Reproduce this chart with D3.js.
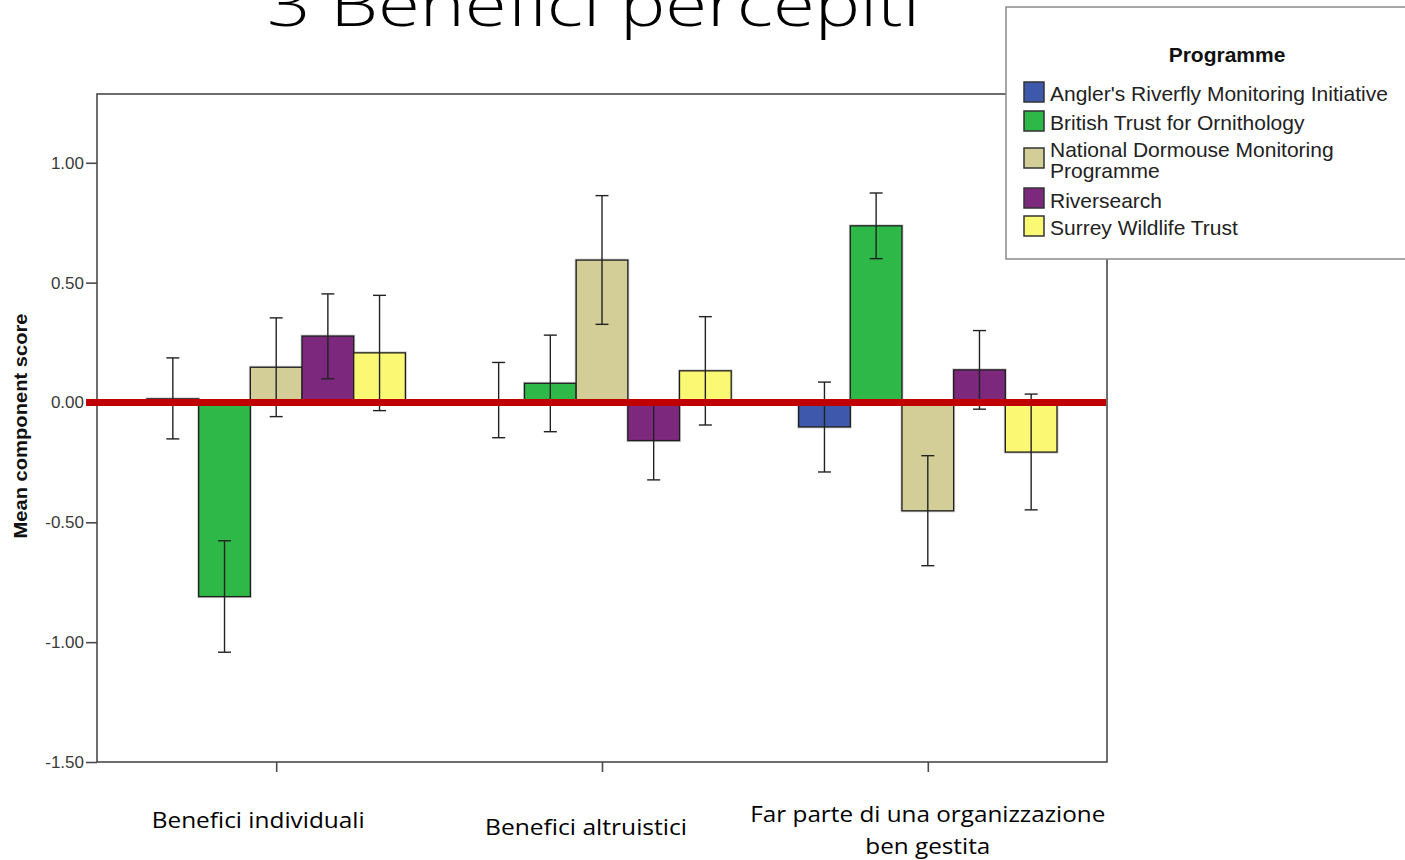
<!DOCTYPE html>
<html lang="it">
<head>
<meta charset="utf-8">
<title>3 Benefici percepiti</title>
<script src="https://cdn.jsdelivr.net/npm/d3@7"></script>
<style>
  body { margin: 0; background: #fff; }
  svg { display: block; }
</style>
</head>
<body>
<div id="chart"></div>
<script>
// --- data ---
var categories = ["Benefici individuali", "Benefici altruistici", "Far parte di una organizzazione ben gestita"];
var categoryLines = [["Benefici individuali"], ["Benefici altruistici"], ["Far parte di una organizzazione", "ben gestita"]];
var programmes = ["Angler's Riverfly Monitoring Initiative", "British Trust for Ornithology",
                  "National Dormouse Monitoring Programme", "Riversearch", "Surrey Wildlife Trust"];
var legendLines = [["Angler's Riverfly Monitoring Initiative"], ["British Trust for Ornithology"],
                   ["National Dormouse Monitoring", "Programme"], ["Riversearch"], ["Surrey Wildlife Trust"]];
var programmeColors = ["#3e58ac", "#2eb848", "#d3ce97", "#7c287d", "#fbf873"];

// one row per category, one value per programme
var meanScores = [[0.015, -0.810, 0.147, 0.277, 0.207],
                  [0.008, 0.080, 0.594, -0.159, 0.132],
                  [-0.102, 0.737, -0.452, 0.136, -0.207]];
var ciLower = [[-0.152, -1.042, -0.059, 0.099, -0.034],
               [-0.147, -0.122, 0.326, -0.323, -0.094],
               [-0.290, 0.600, -0.681, -0.028, -0.448]];
var ciUpper = [[0.186, -0.577, 0.353, 0.453, 0.447],
               [0.167, 0.281, 0.863, 0.005, 0.358],
               [0.085, 0.874, -0.222, 0.300, 0.035]];
var yTicks = [1.0, 0.5, 0.0, -0.5, -1.0, -1.5];

var width = 1405, height = 860;
var plot = {left: 97, right: 1107, top: 94, bottom: 762};

var svg = d3.select("#chart").append("svg")
    .attr("width", width)
    .attr("height", height);

svg.append("rect").attr("width", width).attr("height", height).attr("fill", "#fff");

// slide title, cut at the top like in the slide
svg.append("text")
    .attr("x", 267)
    .attr("y", 26)
    .attr("textLength", 653)
    .attr("lengthAdjust", "spacingAndGlyphs")
    .style("font-family", "'Open Sans', sans-serif")
    .style("font-weight", 300)
    .style("font-size", "60px")
    .attr("fill", "#000")
    .text("3 Benefici percepiti");

var y = d3.scaleLinear()
    .domain([-1.5, 1.287])
    .range([plot.bottom, plot.top]);

var x = d3.scalePoint()
    .domain(categories)
    .range([plot.left, plot.right])
    .padding(0.55);

var groupWidth = x.step() * 0.793;
var xInner = d3.scaleBand()
    .domain(programmes)
    .range([-groupWidth / 2, groupWidth / 2]);

// rows for drawing
var rows = [];
categories.forEach(function(c, i) {
    programmes.forEach(function(p, j) {
        rows.push({cat: c, prog: p, color: programmeColors[j],
                   mean: meanScores[i][j], lo: ciLower[i][j], hi: ciUpper[i][j]});
    });
});

// frame
svg.append("rect")
    .attr("x", plot.left)
    .attr("y", plot.top)
    .attr("width", plot.right - plot.left)
    .attr("height", plot.bottom - plot.top)
    .attr("fill", "none")
    .attr("stroke", "#4a4a4a")
    .attr("stroke-width", 1.6);

// y axis
var yAxis = d3.axisLeft(y)
    .tickValues(yTicks)
    .tickSize(11)
    .tickPadding(2)
    .tickFormat(function(d) { return d.toFixed(2); });

var gy = svg.append("g")
    .attr("transform", "translate(" + plot.left + ",0)")
    .call(yAxis);
gy.select(".domain").remove();
gy.selectAll("line").attr("stroke", "#4a4a4a").attr("stroke-width", 1.6);
gy.selectAll("text")
    .style("font-family", "'Liberation Sans', Arial, sans-serif")
    .style("font-size", "17px")
    .attr("fill", "#3a3a3a");

// x axis (ticks only, labels are slide text)
var xAxis = d3.axisBottom(x)
    .tickSize(10)
    .tickFormat("");
var gx = svg.append("g")
    .attr("transform", "translate(0," + plot.bottom + ")")
    .call(xAxis);
gx.select(".domain").remove();
gx.selectAll("line").attr("stroke", "#4a4a4a").attr("stroke-width", 1.6);

// y axis title
svg.append("text")
    .attr("transform", "translate(27,426) rotate(-90)")
    .attr("text-anchor", "middle")
    .style("font-family", "'Liberation Sans', Arial, sans-serif")
    .style("font-weight", "bold")
    .style("font-size", "18px")
    .attr("textLength", 225)
    .attr("lengthAdjust", "spacingAndGlyphs")
    .attr("fill", "#111")
    .text("Mean component score");

// bars
var bars = svg.append("g");
bars.selectAll("rect.halo")
    .data(rows)
    .enter()
    .append("rect")
    .attr("class", "halo")
    .attr("x", function(d) { return x(d.cat) + xInner(d.prog); })
    .attr("y", function(d) { return Math.min(y(d.mean), y(0)); })
    .attr("width", xInner.bandwidth())
    .attr("height", function(d) { return Math.abs(y(d.mean) - y(0)); })
    .attr("fill", "none")
    .attr("stroke", "#aaa")
    .attr("stroke-width", 3)
    .attr("stroke-opacity", 0.6);

bars.selectAll("rect.bar")
    .data(rows)
    .enter()
    .append("rect")
    .attr("class", "bar")
    .attr("x", function(d) { return x(d.cat) + xInner(d.prog); })
    .attr("y", function(d) { return Math.min(y(d.mean), y(0)); })
    .attr("width", xInner.bandwidth())
    .attr("height", function(d) { return Math.abs(y(d.mean) - y(0)); })
    .attr("fill", function(d) { return d.color; })
    .attr("stroke", "#1e1e1e")
    .attr("stroke-width", 1.3);

// error bars (95% CI)
var capHalf = 6.5;
var errs = svg.append("g")
    .attr("stroke", "#222")
    .attr("stroke-width", 1.4);
var eb = errs.selectAll("g")
    .data(rows)
    .enter()
    .append("g")
    .attr("transform", function(d) {
        return "translate(" + (x(d.cat) + xInner(d.prog) + xInner.bandwidth() / 2) + ",0)";
    });
eb.append("line")
    .attr("y1", function(d) { return y(d.lo); })
    .attr("y2", function(d) { return y(d.hi); });
eb.append("line")
    .attr("x1", -capHalf).attr("x2", capHalf)
    .attr("y1", function(d) { return y(d.hi); })
    .attr("y2", function(d) { return y(d.hi); });
eb.append("line")
    .attr("x1", -capHalf).attr("x2", capHalf)
    .attr("y1", function(d) { return y(d.lo); })
    .attr("y2", function(d) { return y(d.lo); });

// red zero line drawn on top
svg.append("line")
    .attr("x1", plot.left - 11)
    .attr("x2", plot.right - 1)
    .attr("y1", y(0))
    .attr("y2", y(0))
    .attr("stroke", "#c00000")
    .attr("stroke-width", 7);

// category labels (slide text boxes, a bit off the ticks)
var labelShift = [{dx: -18, y: 828}, {dx: -16, y: 835}, {dx: 0, y: 822}];
var labelWidths = [[213], [202], [355, 125]];
categories.forEach(function(c, i) {
    categoryLines[i].forEach(function(line, k) {
        svg.append("text")
            .attr("x", x(c) + labelShift[i].dx)
            .attr("y", labelShift[i].y + k * 32)
            .attr("text-anchor", "middle")
            .attr("textLength", labelWidths[i][k])
            .attr("lengthAdjust", "spacingAndGlyphs")
            .style("font-family", "'Open Sans', sans-serif")
            .style("font-size", "21px")
            .attr("fill", "#000")
            .text(line);
    });
});

// legend
var legend = svg.append("g");
legend.append("rect")
    .attr("x", 1006)
    .attr("y", 7)
    .attr("width", 430)
    .attr("height", 252)
    .attr("fill", "#fff")
    .attr("stroke", "#8a8a8a")
    .attr("stroke-width", 1.5);
legend.append("text")
    .attr("x", 1227)
    .attr("y", 62)
    .attr("text-anchor", "middle")
    .style("font-family", "'Liberation Sans', Arial, sans-serif")
    .style("font-weight", "bold")
    .style("font-size", "21px")
    .attr("fill", "#111")
    .text("Programme");

var swatchTop = [82, 111, 148, 188, 216];
var textBase = [101, 130, 157, 208, 235];
var item = legend.selectAll("g.item")
    .data(programmes)
    .enter()
    .append("g")
    .attr("class", "item");
item.append("rect")
    .attr("x", 1024)
    .attr("y", function(d, i) { return swatchTop[i]; })
    .attr("width", 20)
    .attr("height", 20)
    .attr("fill", function(d, i) { return programmeColors[i]; })
    .attr("stroke", "#333")
    .attr("stroke-width", 1.5);
item.append("text")
    .attr("x", 1050)
    .attr("y", function(d, i) { return textBase[i]; })
    .style("font-family", "'Liberation Sans', Arial, sans-serif")
    .style("font-size", "21px")
    .attr("fill", "#222")
    .each(function(d, i) {
        var t = d3.select(this);
        legendLines[i].forEach(function(line, k) {
            t.append("tspan")
                .attr("x", 1050)
                .attr("dy", k === 0 ? 0 : 21)
                .text(line);
        });
    });
</script>
</body>
</html>
